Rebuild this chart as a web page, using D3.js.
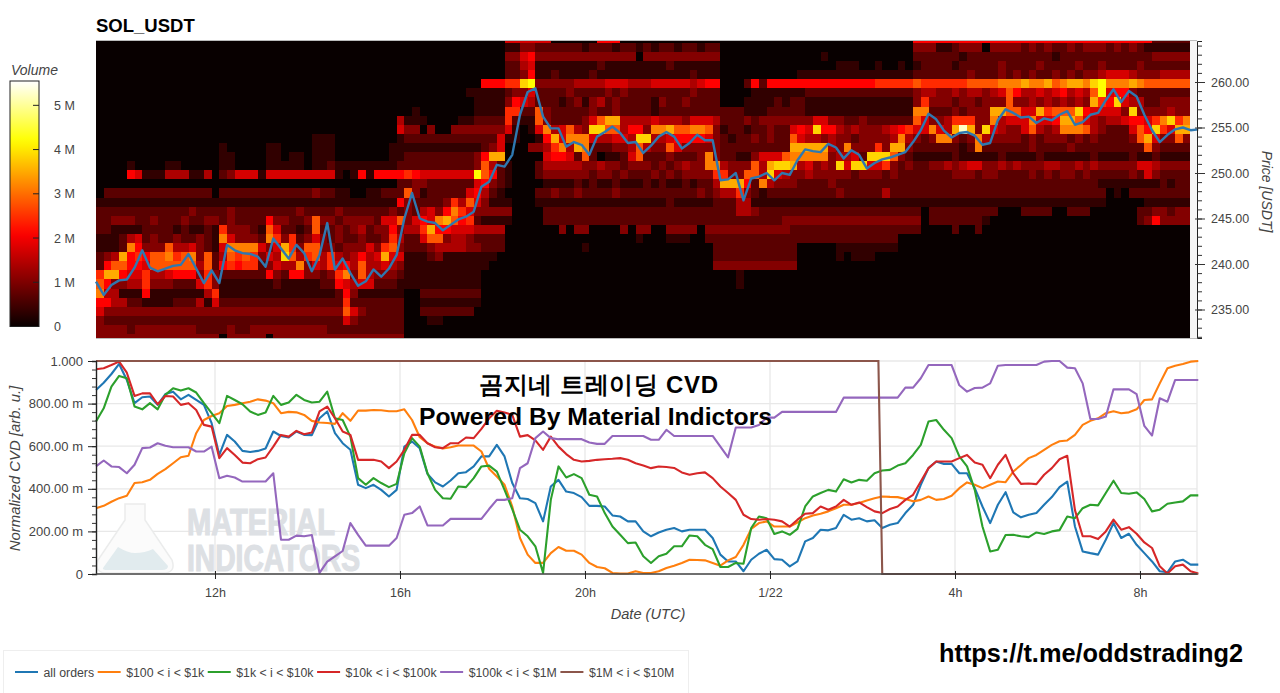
<!DOCTYPE html>
<html><head><meta charset="utf-8">
<script src="https://cdn.jsdelivr.net/npm/d3@7"></script>
<style>
html,body{margin:0;padding:0;background:#fff;overflow:hidden}
svg{display:block}
text{font-family:"Liberation Sans",Arial,sans-serif}
</style></head><body><div id="chart"></div>
<script>
// ---------- DATA ----------
const title = "SOL_USDT";
const startTimeUTC = "2025-01-21T09:25:38Z";
const stepMinutes = 10;
const priceBinTop = 265.3;          // upper price of the first heat row, 1 USDT per row
const volumeStepM = 0.35;           // one heat level, in millions
// one string per price bin, top to bottom; one base-16 level per 10-minute column; "_" = ten zeros
const heatRows = [
"_ _ _ _ _ 0005555550 0000066600 _ _ _ 0000006666 6666666666 6666666666 6666666222 22",
"_ _ _ _ _ 0001133222 2221222122 1212212212 2000000000 _ 0000003331 1233303333 2323223233 3232321111 11",
"_ _ _ _ _ 0003356333 3333333333 0333333333 3000000000 0000100000 0000002222 2212222222 2222122222 2222222333 33",
"_ _ _ _ _ 0002245111 1111121111 1111211111 1000000000 0000001110 0100101222 2122222322 2232222322 3222232222 22",
"_ _ _ _ _ 0002236112 1111211111 1111111211 1000000000 0111111111 1111112222 2223222323 2322323233 4555433344 44",
"_ _ _ _ _ 66677bc333 3344445554 4455555456 6000262666 6666666666 6777778777 7778888999 a99a89aa9b c999a98888 88",
"_ _ _ _ 0000000011 1112335222 2322223232 2222222322 2000011111 1122222222 2222223443 3434434586 4454564548 c566322222 22",
"_ _ _ _ 0000000001 1113654222 1231342322 2213223222 2000111121 2211111111 1111113733 3233233383 343434343a 76b5442233 33",
"_ _ _ _ 0100000001 1117722832 2222322322 2212222222 2222111222 2211111111 1111119922 232333aa88 55a7888b65 5553b33334 33",
"_ _ _ 0000000004 1110000112 2227211832 222358aa44 4454443555 4222323333 3335533223 2222228533 4777339455 59556aa854 344566579b 79",
"_ _ _ 0000000005 3303003333 3335101594 5843bb8846 6399a88998 3122122322 565b664343 3345675595 4afa3b5433 5843499984 3222586b75 aa",
"_ _ 0000000011 1000000001 2222222222 225110016a 5999544554 bb44566665 3212232322 8544343323 3334943239 9323943333 2323332323 222238a533 83",
"_ 0000001000 0011000011 1000000011 1111111111 2350003347 94a9222334 8433853333 3222222222 aaaaa43933 373aa32222 2212922222 2322223222 2222228322 22",
"_ 0000001100 0011011011 1000000011 2222222223 6aa0000056 6528201125 8222322239 3221135558 9999934452 bbb8321111 1211111211 1121111112 1111211211 11",
"0000100001 1000001100 0011111011 2111111112 2222222223 8421000244 4443343323 3323234339 9433384abb a45343b5bb 5573232233 4345533434 3334433434 3333355433 33",
"0000651114 4411402355 5155555555 5101616666 765555555c 8621000233 3333233232 2232323333 7733884b54 3343333323 3323222222 2333233222 2323233232 2222325322 22",
"_ _ _ 0000000002 2332222225 6321000011 1121211211 1212112122 4aaa629433 3222232222 2222222222 2222222222 2222222222 1111111121 22",
"0222222222 2222202222 2222222232 2110011222 8312222256 4210000223 2232222322 2222222232 3447321222 2222223222 2242222222 2222222222 2222222222 2010222222 22",
"1111111111 1111111111 1111111111 1111111116 3222237485 3111000111 1111111111 1111211111 2224411111 1111111111 1111111111 1111111111 1111111111 1000001111 11",
"2222222222 2232222322 2222223222 2322222232 3245369753 3333000022 2222222222 2222222222 2224432222 2222222222 2222222022 2222222000 2222002220 0000022332 33",
"2233322322 2322332322 2263322383 3233332558 35659a8672 1111000022 2222222222 2222222222 2222222223 3333333333 3333333022 2222210000 _ 0000023633 33",
"2211112222 1211217333 2185221282 2323423363 447a665554 4440000000 3033000030 3300333303 3333333333 2222222222 2222222000 0200200000 _ _ 00",
"1112452322 3223219533 3297372353 2322322374 2258834432 2220000000 _ 1000111002 2222222222 2222222222 2222000000 _ _ _ 00",
"1112963338 4453215999 9535a73883 3233353783 2223444433 2220000000 0001000000 _ 2222222222 2000001111 1111000000 _ _ _ 00",
"234a676889 7893824878 7354b84784 7434645a55 1112311111 1100000000 _ _ 2222222222 2000001011 1000000000 _ _ _ 00",
"2688665888 8884826767 7235449354 7564844543 1111111111 1000000000 _ _ 3333333333 3000000000 _ _ _ _ 00",
"7aa6557445 6663732222 2263266332 3793843332 1111111111 _ _ _ 0001000000 _ _ _ _ _ 00",
"8633447333 2225731111 1112111112 2654552221 1111111111 _ _ _ 0001000000 _ _ _ _ _ 00",
"9441116111 1111471111 1111111111 1263111111 0022222222 _ _ _ _ _ _ _ _ _ 00",
"6644221111 2224152222 2222222222 2272222222 0011111111 _ _ _ _ _ _ _ _ _ 00",
"5333333333 3333333333 3333333333 3385322222 0022222220 _ _ _ _ _ _ _ _ _ 00",
"3222222222 2222222222 2222222222 2253222222 0001100000 _ _ _ _ _ _ _ _ _ 00",
"3333233333 3332222322 3333333333 2222222222 _ _ _ _ _ _ _ _ _ _ 00",
"3333333333 3333330333 3303333333 3333333333 _ _ _ _ _ _ _ _ _ _ 00"
];
const price = [238.06,236.6,237.7,238.2,238.3,239.6,241.5,239.6,239.2,239.5,239.8,239.9,241.1,239.5,237.9,239.3,237.9,242.1,241.5,241.2,241.1,240.8,239.7,242.8,241.7,240.6,242.1,241.2,239.2,241,244.5,239.4,240.6,239,237.6,238.1,239.4,238.6,239.5,241,
245,247.8,245,244.65,244.5,243.7,244.3,244.9,245.2,245.75,248.5,249.05,250.9,250.7,252,256.4,258.9,259.3,256.2,254.9,254.9,252.9,253.4,253.1,252,254,254.5,255.1,254.4,253.3,253.4,252.2,253,254,254.5,254,252.7,253.3,254.2,253.6,253.6,249.2,249.3,250,247,249.4,249.6,250,249.2,250,249.8,251.4,
252.6,252.4,252.3,253.2,252.8,251.6,252.5,252,250.5,251.1,251.5,251.7,252,252.3,253.4,254.7,256.5,255.9,254.65,253.9,254.4,254.5,254.1,253.1,253.3,255.8,257,256.6,256.1,256.2,255.5,256,255.8,256.4,256.8,255.3,255.6,256.4,256.6,258,259.2,257.8,259,258.4,256.4,254.7,253.4,254.2,254.8,255,254.7,254.8];

const cvdAll = [864,898,939,986,911,802,830,833,794,845,856,820,841,817,794,708,559,653,622,578,573,578,589,669,648,641,669,653,652,731,763,661,614,583,419,403,419,395,364,395,598,622,590,470,
430,411,439,473,478,505,552,552,606,552,427,356,352,333,247,411,442,387,380,361,320,320,317,275,270,247,247,200,177,195,208,216,200,208,208,208,169,91,59,59,13,67,95,114,70,67,36,59,153,169,208,205,216,278,255,262,
247,252,216,231,239,286,325,419,497,528,517,517,473,473,403,317,239,325,384,289,266,278,286,325,361,408,434,223,106,98,91,161,239,169,189,137,98,59,13,8,59,67,44,44];
const cvd100to1k = [309,320,339,356,367,427,431,442,470,492,520,548,555,661,723,742,755,789,794,802,809,820,814,802,755,761,759,747,719,711,709,705,755,719,767,767,770,769,764,764,773,723,642,614,
598,589,595,603,603,603,575,494,458,419,317,169,91,52,52,98,127,109,109,91,52,33,27,5,2,2,13,5,5,13,28,39,52,67,66,64,52,39,64,80,137,212,239,247,223,223,223,242,262,275,283,294,309,325,325,333,
345,356,364,362,361,352,341,348,364,348,352,367,403,430,419,403,419,434,431,481,512,544,559,583,606,623,627,653,700,719,731,755,764,755,759,773,817,820,895,966,978,986,997,1000];
const cvd1kto10k = [716,778,880,930,919,786,773,802,773,841,872,861,872,852,802,755,708,836,817,797,763,747,758,836,794,805,841,817,805,809,856,731,723,645,450,419,450,427,408,423,567,638,598,473,
395,356,353,411,408,450,505,509,481,395,305,208,177,130,5,348,505,453,469,450,372,364,286,223,184,145,148,83,52,83,95,130,130,181,177,137,117,33,33,52,48,216,270,262,188,200,184,212,317,364,380,395,387,445,430,442,
438,473,486,489,509,520,559,606,716,723,677,638,552,505,395,223,106,114,183,184,177,173,195,188,200,206,270,262,309,325,322,380,438,380,377,383,352,294,302,330,336,341,369,369];
const cvd10kto100k = [961,966,981,997,945,836,848,848,797,836,833,794,802,770,700,692,544,591,559,523,520,539,547,598,653,645,672,656,664,763,786,731,669,653,536,536,536,528,497,528,583,653,653,614,
595,591,614,614,641,638,681,731,766,758,747,645,652,627,583,645,598,563,536,528,531,536,539,541,544,536,520,509,497,505,502,498,477,466,473,477,450,411,380,348,278,258,255,258,255,247,223,255,283,286,317,302,317,348,325,336,
314,294,286,305,317,348,372,434,497,528,528,528,544,559,523,513,450,513,559,473,423,425,422,466,497,539,555,300,177,177,164,200,255,208,220,189,148,122,36,2,36,44,13,2];
const cvd100kto1M = [505,533,505,502,473,513,591,594,614,602,595,595,595,575,575,598,450,461,453,434,434,434,434,473,161,161,180,177,183,5,58,83,108,239,184,133,133,133,133,169,278,286,317,228,
228,228,259,259,259,259,259,305,348,348,356,497,520,638,669,638,633,633,633,633,617,611,611,648,648,648,648,648,630,630,677,648,648,648,648,648,648,598,548,688,688,688,700,734,734,761,761,761,761,761,761,761,761,828,828,828,
828,828,828,828,828,875,875,919,981,981,981,981,886,856,873,875,895,978,981,981,981,981,981,997,1000,1000,969,966,895,728,728,739,867,867,867,844,695,650,825,809,911,911,911,911];
const cvd1Mto10MIndex = [0,101.5,102,143];
const cvd1Mto10M = [1000,1000,0,0];

const seriesNames = ["all orders","$100 < i < $1k","$1k < i < $10k","$10k < i < $100k","$100k < i < $1M","$1M < i < $10M"];
const seriesColors = ["#1f77b4","#ff7f0e","#2ca02c","#d62728","#9467bd","#8c564b"];
const cvdTicks = [0,200,400,600,800,1000];
const cvdTickLabels = ["0","200.00 m","400.00 m","600.00 m","800.00 m","1.000"];
const timeTicks = ["2025-01-21T12:00Z","2025-01-21T16:00Z","2025-01-21T20:00Z","2025-01-22T00:00Z","2025-01-22T04:00Z","2025-01-22T08:00Z"];
const timeTickLabels = ["12h","16h","20h","1/22","4h","8h"];
const priceTicks = [235,240,245,250,255,260];
const volumeTicks = [0,1,2,3,4,5];
const volumeTickLabels = ["0","1 M","2 M","3 M","4 M","5 M"];

// ---------- LAYOUT ----------
const W=1280,H=693, L=96, R=1197, TT=41, TB=338, BT=361, BB=574, heatRight=1190;
const gray="#444";
const svg=d3.select("#chart").append("svg").attr("width",W).attr("height",H);
const t0=new Date(startTimeUTC);
const tAt=i=>new Date(+t0+i*stepMinutes*60000);
const msSpan=1101/46.25*3600000;
const x=d3.scaleUtc().domain([t0,new Date(+t0+msSpan)]).range([L,R]);
const yP=d3.scaleLinear().domain([260-(TB-82)/9.1,260+(82-TT)/9.1]).range([TB,TT]);
const yC=d3.scaleLinear().domain([0,1000]).range([BB,BT]);
const color=d3.scaleLinear().domain([0,2.1,4.2,5.55]).range(["#080000","#ff0000","#ffff00","#ffffff"]);
const defs=svg.append("defs");
defs.append("clipPath").attr("id","hc").append("rect").attr("x",L).attr("y",TT).attr("width",R-L).attr("height",TB-TT);

svg.append("text").attr("x",L).attr("y",32).attr("font-size",18.5).attr("font-weight",700).attr("fill","#000").text(title);

// heatmap
svg.append("rect").attr("x",L).attr("y",TT).attr("width",R-L).attr("height",TB-TT).attr("fill","#fff");
const cells=[];
heatRows.forEach((r,k)=>{
  const s=r.replace(/\s/g,"").replace(/_/g,"0000000000");
  for(let c=0;c<142;c++){
    const lv=parseInt(s[c]||"0",16);
    cells.push({k,c,v:lv*volumeStepM});
  }
});
const gh=svg.append("g").attr("clip-path","url(#hc)").attr("shape-rendering","crispEdges");
gh.selectAll("rect").data(cells).join("rect")
  .attr("x",d=>x(tAt(d.c)))
  .attr("width",d=>x(tAt(d.c+1))-x(tAt(d.c)))
  .attr("y",d=>yP(priceBinTop-d.k))
  .attr("height",d=>yP(priceBinTop-d.k-1)-yP(priceBinTop-d.k))
  .attr("fill",d=>color(d.v));
svg.append("rect").attr("x",heatRight).attr("y",TT).attr("width",R-heatRight).attr("height",TB-TT).attr("fill","#f6f6f6");
svg.append("line").attr("x1",L).attr("x2",R).attr("y1",TT-.5).attr("y2",TT-.5).attr("stroke","#bbb");
svg.append("line").attr("x1",L).attr("x2",R).attr("y1",TB+.5).attr("y2",TB+.5).attr("stroke","#bbb");
const line=(xf,yf)=>d3.line().x(xf).y(yf);
svg.append("path").datum(price).attr("fill","none").attr("stroke","#2f78b0").attr("stroke-width",2.4).attr("stroke-linejoin","round")
  .attr("d",line((d,i)=>x(tAt(i)),d=>yP(d)));

// price axis
const minorP=d3.range(232,265);
const axP=svg.append("g").attr("transform",`translate(${R},0)`)
  .call(d3.axisRight(yP).tickValues(minorP).tickSize(5).tickFormat(""));
axP.select(".domain").attr("stroke","#222");
axP.selectAll("line").attr("stroke","#333");
const axP2=svg.append("g").attr("transform",`translate(${R},0)`)
  .call(d3.axisRight(yP).tickValues(priceTicks).tickSize(8).tickPadding(6).tickFormat(d3.format(".2f")));
axP2.select(".domain").remove();
axP2.selectAll("line").attr("stroke","#333").attr("x1",-2);
axP2.selectAll("text").attr("font-size",12.5).attr("fill",gray).attr("font-family","Liberation Sans");
svg.append("text").attr("transform","translate(1262,191.5) rotate(90)").attr("text-anchor","middle")
  .attr("font-size",14).attr("font-style","italic").attr("fill",gray).text("Price [USDT]");

// colour bar
const vScale=d3.scaleLinear().domain([0,5.55]).range([326.5,81]);
const grad=defs.append("linearGradient").attr("id","cb").attr("x1",0).attr("y1",1).attr("x2",0).attr("y2",0);
d3.range(0,5.56,0.185).forEach(v=>grad.append("stop").attr("offset",v/5.55).attr("stop-color",color(v)));
svg.append("rect").attr("x",10).attr("y",81).attr("width",29).attr("height",245.5).attr("fill","url(#cb)").attr("stroke","#222");
const axV=svg.append("g").attr("transform","translate(39,0)")
  .call(d3.axisRight(vScale).tickValues(volumeTicks).tickSize(0).tickPadding(15).tickFormat((d,i)=>volumeTickLabels[i]));
axV.select(".domain").remove();
axV.selectAll("text").attr("font-size",12.5).attr("fill",gray).attr("font-family","Liberation Sans");
svg.selectAll(".vt").data(volumeTicks.slice(1)).join("line").attr("class","vt")
  .attr("x1",33).attr("x2",39).attr("y1",d=>vScale(d)).attr("y2",d=>vScale(d)).attr("stroke","#222");
svg.append("text").attr("x",11).attr("y",75).attr("font-size",14).attr("font-style","italic").attr("fill",gray).text("Volume");

// CVD grid
const gg=svg.append("g").attr("stroke","#e8e8e8").attr("stroke-width",1.3);
gg.selectAll(".h").data(cvdTicks).join("line").attr("x1",L).attr("x2",R).attr("y1",d=>yC(d)).attr("y2",d=>yC(d));
gg.selectAll(".v").data(timeTicks).join("line").attr("y1",BT).attr("y2",BB).attr("x1",d=>x(new Date(d))).attr("x2",d=>x(new Date(d)));
gg.append("line").attr("x1",R).attr("x2",R).attr("y1",BT).attr("y2",BB);

// watermark
const wm=svg.append("g");
wm.append("path").attr("d","M125 504H145V520L172 560Q176 572 165 573H105Q94 572 98 560L125 520Z").attr("fill","#fbfbfb").attr("stroke","#ebecec").attr("stroke-width",1.5);
wm.append("path").attr("d","M103 568L118 547Q128 553 135 553Q145 553 153 549L168 566Q168 570 162 570H108Q102 570 103 568Z").attr("fill","#e1ebee");
wm.append("text").attr("x",187).attr("y",535).attr("font-size",36).attr("font-weight",700).attr("font-family","Open Sans").attr("fill","#dde0e4").attr("stroke","#dde0e4").attr("stroke-width",1.2).attr("textLength",148).attr("lengthAdjust","spacingAndGlyphs").text("MATERIAL");
wm.append("text").attr("x",187).attr("y",571).attr("font-size",36).attr("font-weight",700).attr("font-family","Open Sans").attr("fill","#dde0e4").attr("stroke","#dde0e4").attr("stroke-width",1.2).attr("textLength",173).attr("lengthAdjust","spacingAndGlyphs").text("INDICATORS");

// CVD lines
[cvdAll,cvd100to1k,cvd1kto10k,cvd10kto100k,cvd100kto1M].forEach((s,n)=>{
  svg.append("path").datum(s).attr("fill","none").attr("stroke",seriesColors[n]).attr("stroke-width",2.1).attr("stroke-linejoin","round")
    .attr("d",line((d,i)=>x(tAt(i)),d=>yC(d)));
});
svg.append("path").datum(cvd1Mto10M).attr("fill","none").attr("stroke",seriesColors[5]).attr("stroke-width",2.1)
  .attr("d",line((d,i)=>x(tAt(cvd1Mto10MIndex[i])),d=>yC(d)));

// CVD axes
const axL=svg.append("g").attr("transform",`translate(${L},0)`)
  .call(d3.axisLeft(yC).tickValues(d3.range(0,1001,40)).tickSize(4).tickFormat(""));
axL.select(".domain").attr("stroke","#222").attr("stroke-width",1.4);
axL.selectAll("line").attr("stroke","#333");
const axL2=svg.append("g").attr("transform",`translate(${L},0)`)
  .call(d3.axisLeft(yC).tickValues(cvdTicks).tickSize(8).tickPadding(5).tickFormat((d,i)=>cvdTickLabels[i]));
axL2.select(".domain").remove();
axL2.selectAll("line").attr("stroke","#222");
axL2.selectAll("text").attr("font-size",13).attr("fill",gray).attr("font-family","Liberation Sans");
svg.append("text").attr("transform","translate(20,468.5) rotate(-90)").attr("text-anchor","middle")
  .attr("font-size",14.9).attr("font-style","italic").attr("fill",gray).text("Normalized CVD [arb. u.]");
const axB=svg.append("g").attr("transform",`translate(0,${BB})`)
  .call(d3.axisBottom(x).tickValues(timeTicks.map(d=>new Date(d))).tickSize(5).tickPadding(9).tickFormat((d,i)=>timeTickLabels[i]));
axB.select(".domain").attr("stroke","#444").attr("stroke-width",1.6).attr("d",`M${L},0H${R}`);
axB.selectAll("line").attr("stroke","#222").attr("y1",-3);
axB.selectAll("text").attr("font-size",12.5).attr("fill",gray).attr("font-family","Liberation Sans");
svg.append("text").attr("x",648).attr("y",619).attr("text-anchor","middle").attr("font-size",14.6).attr("font-style","italic").attr("fill",gray).text("Date (UTC)");

// overlay text
const kr='"Noto Sans CJK KR","Noto Sans",sans-serif';
svg.append("text").attr("x",479).attr("y",393).attr("font-size",24).attr("font-weight",700).attr("font-family",kr).attr("fill","#000").attr("textLength",239).text("곰지네 트레이딩 CVD");
svg.append("text").attr("x",419).attr("y",425).attr("font-size",24).attr("font-weight",700).attr("font-family","Noto Sans").attr("fill","#000").attr("textLength",353).attr("lengthAdjust","spacingAndGlyphs").text("Powered By Material Indictors");
svg.append("text").attr("x",939).attr("y",662).attr("font-size",26).attr("font-weight",700).attr("font-family","Noto Sans").attr("fill","#000").attr("textLength",304).attr("lengthAdjust","spacingAndGlyphs").text("https://t.me/oddstrading2");

// legend
svg.append("rect").attr("x",3.5).attr("y",650.5).attr("width",685).attr("height",60).attr("fill","#fff").attr("stroke","#eee");
let lx=15;
seriesNames.forEach((n,i)=>{
  svg.append("line").attr("x1",lx).attr("x2",lx+23).attr("y1",672).attr("y2",672).attr("stroke",seriesColors[i]).attr("stroke-width",2);
  const t=svg.append("text").attr("x",lx+28.5).attr("y",676.5).attr("font-size",12.3).attr("fill",gray).text(n);
  lx+=28.5+t.node().getComputedTextLength()+3.6;
});
</script></body></html>
